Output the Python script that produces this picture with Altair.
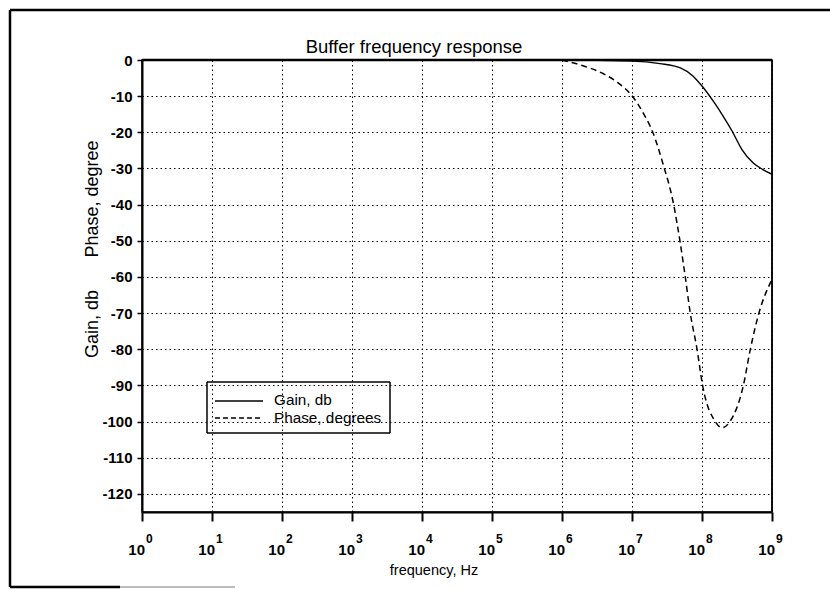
import altair as alt
import pandas as pd

# Gain curve (dB) versus frequency (Hz)
gain_freq = [1.0, 1.0e6, 1.0e7, 2.5e7, 4.9e7, 7.4e7, 1.0e8, 1.45e8, 2.0e8,
             2.7e8, 3.7e8, 5.4e8, 7.4e8, 1.0e9]
gain_db = [0.0, 0.0, -0.3, -1.0, -2.2, -4.4, -7.2, -11.4, -15.5,
           -19.7, -24.7, -28.5, -30.3, -31.6]

# Phase curve (degrees) versus frequency (Hz)
phase_freq = [1.0, 1.0e6, 1.1e6, 2.0e6, 3.9e6, 6.2e6, 1.0e7, 1.45e7, 2.0e7,
              2.75e7, 3.9e7, 4.9e7, 5.75e7, 6.8e7, 8.5e7, 1.02e8, 1.55e8,
              1.95e8, 2.5e8, 3.9e8, 4.9e8, 6.5e8, 1.0e9]
phase_deg = [0.0, 0.0, -0.2, -1.6, -3.8, -6.2, -9.9, -14.7, -20.2,
             -28.5, -39.6, -50.7, -59.8, -70.0, -80.0, -90.0, -100.0,
             -101.7, -100.0, -90.0, -80.0, -70.0, -60.7]

decade_exponents = [0, 1, 2, 3, 4, 5, 6, 7, 8, 9]
y_ticks = [-120, -110, -100, -90, -80, -70, -60, -50, -40, -30, -20, -10, 0]

FONT = "Liberation Sans, Arial, sans-serif"
W, H = 630, 452

gain_df = pd.DataFrame({"freq": gain_freq, "value": gain_db})
phase_df = pd.DataFrame({"freq": phase_freq, "value": phase_deg})
ticks_df = pd.DataFrame({
    "freq": [10.0 ** k for k in decade_exponents],
    "base": ["10"] * len(decade_exponents),
    "exp": [str(k) for k in decade_exponents],
})

x_scale = alt.Scale(type="log", domain=[1, 1e9], nice=False)
y_scale = alt.Scale(domain=[-125, 0], nice=False, zero=False)

x_axis = alt.Axis(values=[10.0 ** k for k in decade_exponents], labels=False,
                  title=None, grid=True, gridDash=[1.5, 3], gridColor="#000",
                  gridWidth=1, tickSize=9, tickWidth=2, tickColor="#000",
                  domainColor="#000", domainWidth=2)
y_axis = alt.Axis(values=y_ticks, title=None, grid=True, gridDash=[1.5, 3],
                  gridColor="#000", gridWidth=1, tickSize=5, tickWidth=1.5,
                  tickColor="#000", domainColor="#000", domainWidth=2,
                  labelFont=FONT, labelFontSize=15, labelFontWeight="bold",
                  labelColor="#000", labelPadding=5, labelOverlap=False,
                  labelExpr="'' + datum.value")

X = alt.X("freq:Q", scale=x_scale, axis=x_axis)
Y = alt.Y("value:Q", scale=y_scale, axis=y_axis)

gain_line = alt.Chart(gain_df).mark_line(
    color="#000", strokeWidth=1.4, interpolate="monotone"
).encode(x=X, y=Y)

phase_line = alt.Chart(phase_df).mark_line(
    color="#000", strokeWidth=1.5, strokeDash=[6, 4], interpolate="monotone"
).encode(x=X, y=Y)

# Decade labels written as 10 with a raised exponent
tick_base = alt.Chart(ticks_df).mark_text(
    align="right", baseline="alphabetic", dx=3, font=FONT, fontSize=15,
    fontWeight="bold", color="#000"
).encode(x=X, y=alt.value(495), text="base:N")

tick_exp = alt.Chart(ticks_df).mark_text(
    align="left", baseline="alphabetic", dx=4, font=FONT, fontSize=12,
    fontWeight="bold", color="#000"
).encode(x=X, y=alt.value(483), text="exp:N")


def label(text, x, y, size=15, angle=0, align="center"):
    return alt.Chart(pd.DataFrame({"t": [text]})).mark_text(
        align=align, baseline="alphabetic", font=FONT, fontSize=size,
        angle=angle, color="#000"
    ).encode(x=alt.value(x), y=alt.value(y), text="t:N")


def rule(x, x2, y, y2=None, width=1.5, color="#000", dash=None):
    enc = {"x": alt.value(x), "y": alt.value(y)}
    if x2 is not None:
        enc["x2"] = alt.value(x2)
    if y2 is not None:
        enc["y2"] = alt.value(y2)
    kw = {"color": color, "strokeWidth": width}
    if dash:
        kw["strokeDash"] = dash
    return alt.Chart(pd.DataFrame({"k": [0]})).mark_rule(**kw).encode(**enc)


title = label("Buffer frequency response", 272, -7, size=18.5)
x_title = label("frequency, Hz", 292, 515, size=14.5)
y_title_phase = label("Phase, degree", -44, 139, size=18, angle=270)
y_title_gain = label("Gain, db", -44, 264, size=18, angle=270)

# Legend box with line samples
legend_parts = [
    rule(65, 248, 322, width=1.5),
    rule(65, 248, 373, width=1.5),
    rule(65, None, 322, 373, width=1.5),
    rule(248, None, 322, 373, width=1.5),
    rule(73, 121, 341, width=1.4),
    rule(73, 121, 358, width=1.4, dash=[5, 3]),
    label("Gain, db", 132, 345, size=15.3, align="left"),
    label("Phase, degrees", 132, 363, size=15.3, align="left"),
]

# Plot frame: heavy top edge, right edge, and the outer page border
frame_parts = [
    rule(0, W, 0, width=2.5),
    rule(W, None, 0, H, width=1.5),
    rule(-132, 688, -50, width=2.5),
    rule(-132, None, -50, 527, width=2.5),
    rule(-132, -22, 527, width=2.5),
    rule(-22, 93, 527, width=2, color="#bbbbbb"),
]

chart = alt.layer(
    gain_line, phase_line, tick_base, tick_exp, title, x_title,
    y_title_phase, y_title_gain, *legend_parts, *frame_parts
).properties(
    width=W, height=H,
    padding={"left": 142, "top": 60, "right": 58, "bottom": 77},
    autosize=alt.AutoSizeParams(type="none"),
    background="#ffffff",
).configure_view(stroke="#000", strokeWidth=1.5)

chart.save("out.html", embed_options={"renderer": "svg", "actions": False})
